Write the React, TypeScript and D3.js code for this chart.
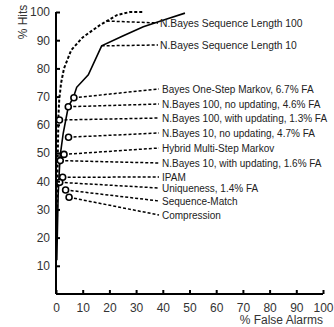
import React, { useEffect, useRef } from 'react';
import * as d3 from 'd3';

// N.Bayes sequence length 100 (dotted curve)
const fa100 = [0.3, 0.6, 0.9, 1.2, 1.9, 3, 5.7, 10, 16.5, 22.8, 27.7, 33];
const hits100 = [20, 45, 62.8, 68.8, 74.8, 80, 86.5, 91, 95.4, 98.9, 100, 100];

// N.Bayes sequence length 10 (solid curve)
const fa10 = [0.3, 0.8, 1.5, 2.7, 4.6, 6.5, 7.75, 12.1, 17.1, 25, 32.7, 41.5, 48.3];
const hits10 = [12, 35, 48.6, 57, 66.4, 69.7, 73.3, 77.7, 88, 91.5, 94.8, 97.5, 99.6];

// single operating points
const methodNames = [
  'Bayes One-Step Markov, 6.7% FA',
  'N.Bayes 100, no updating, 4.6% FA',
  'N.Bayes 100, with updating, 1.3% FA',
  'N.Bayes 10, no updating, 4.7% FA',
  'Hybrid Multi-Step Markov',
  'N.Bayes 10, with updating, 1.6% FA',
  'IPAM',
  'Uniqueness, 1.4% FA',
  'Sequence-Match',
  'Compression',
];
const methodFa = [6.7, 4.6, 1.3, 4.7, 3.0, 1.6, 2.5, 1.4, 3.6, 4.9];
const methodHits = [69.6, 66.4, 61.7, 55.6, 49.5, 47.3, 41.4, 39.6, 36.9, 34.3];

// curve labels and where their leaders meet the curves
const curveNames = ['N.Bayes Sequence Length 100', 'N.Bayes Sequence Length 10'];
const curveFa = [19, 17.1];
const curveHits = [96.8, 88];

const ticks = [0, 10, 20, 30, 40, 50, 60, 70, 80, 90, 100];

// label layout (pixels)
const labelY = [89, 104, 118, 133, 148, 163, 177, 188, 201, 215];
const curveLabelY = [23, 45];

const App = () => {
  const ref = useRef<SVGSVGElement>(null);

  useEffect(() => {
    document.body.style.margin = '0';
    const width = 334;
    const height = 327;
    const x = d3.scaleLinear().domain([0, 100]).range([56, 323]);
    const y = d3.scaleLinear().domain([0, 100]).range([294, 12]);
    const font = '"Liberation Sans", Arial, sans-serif';

    const svg = d3.select(ref.current);
    svg.selectAll('*').remove();
    svg.attr('width', width).attr('height', height);

    const line = d3.line<[number, number]>().x(d => x(d[0])).y(d => y(d[1]));

    // curves
    svg.append('path')
      .attr('d', line(fa100.map((f, i) => [f, hits100[i]])))
      .attr('fill', 'none')
      .attr('stroke', '#000')
      .attr('stroke-width', 2)
      .attr('stroke-dasharray', '3,2');

    svg.append('path')
      .attr('d', line(fa10.map((f, i) => [f, hits10[i]])))
      .attr('fill', 'none')
      .attr('stroke', '#000')
      .attr('stroke-width', 1.6);

    // curve labels
    curveNames.forEach((name, i) => {
      svg.append('line')
        .attr('x1', x(curveFa[i])).attr('y1', y(curveHits[i]))
        .attr('x2', 158).attr('y2', curveLabelY[i])
        .attr('stroke', '#000').attr('stroke-width', 1.5)
        .attr('stroke-dasharray', '3,2');
      svg.append('text')
        .attr('x', 160).attr('y', curveLabelY[i])
        .attr('dy', '0.35em')
        .style('font-family', font).style('font-size', '10.3px')
        .attr('fill', '#222')
        .text(name);
    });

    // method leaders, markers and labels
    methodNames.forEach((name, i) => {
      svg.append('line')
        .attr('x1', x(methodFa[i])).attr('y1', y(methodHits[i]))
        .attr('x2', 159).attr('y2', labelY[i])
        .attr('stroke', '#000').attr('stroke-width', 1.5)
        .attr('stroke-dasharray', '3,2');
    });
    methodNames.forEach((name, i) => {
      svg.append('circle')
        .attr('cx', x(methodFa[i])).attr('cy', y(methodHits[i]))
        .attr('r', 3)
        .attr('fill', '#fff')
        .attr('stroke', '#000').attr('stroke-width', 1.6);
      svg.append('text')
        .attr('x', 162).attr('y', labelY[i])
        .attr('dy', '0.35em')
        .style('font-family', font).style('font-size', '10px')
        .attr('fill', '#222')
        .text(name);
    });

    // axes
    const xAxis = svg.append('g').attr('transform', `translate(0,${y(0)})`)
      .call(d3.axisBottom(x).tickValues(ticks).tickSize(-4).tickPadding(9));
    const yAxis = svg.append('g').attr('transform', `translate(${x(0)},0)`)
      .call(d3.axisLeft(y).tickValues(ticks.slice(1)).tickSize(-4).tickPadding(6));
    [xAxis, yAxis].forEach(g => {
      g.select('.domain').attr('stroke', '#000').attr('stroke-width', 2);
      g.selectAll('.tick line').attr('stroke', '#000').attr('stroke-width', 2);
      g.selectAll('.tick text')
        .style('font-family', font).style('font-size', '12px')
        .attr('fill', '#333');
    });
    xAxis.select('.domain').attr('d', `M${x(0)},0H${x(100)}`);
    yAxis.select('.domain').attr('d', `M0,${y(0)}V${y(100)}`);

    svg.append('text')
      .attr('x', x(100)).attr('y', 324)
      .attr('text-anchor', 'end')
      .style('font-family', font).style('font-size', '12px')
      .attr('fill', '#333')
      .text('% False Alarms');

    svg.append('text')
      .attr('transform', 'translate(27,22) rotate(-90)')
      .attr('text-anchor', 'middle')
      .style('font-family', font).style('font-size', '12px')
      .attr('fill', '#333')
      .text('% Hits');
  }, []);

  return <svg ref={ref} style={{ display: 'block' }} />;
};

export default App;
